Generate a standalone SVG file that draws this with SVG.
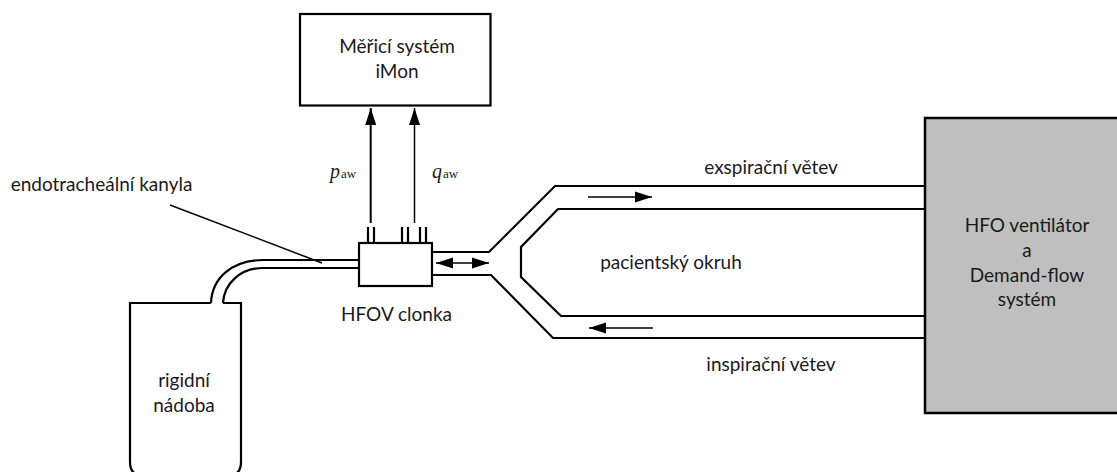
<svg xmlns="http://www.w3.org/2000/svg" width="1117" height="472" viewBox="0 0 1117 472">
<style>
.l{fill:none;stroke:#000;stroke-width:2.2}
.t{font-family:"Lato","Open Sans",sans-serif;font-size:19px;fill:#1a1a1a;text-anchor:middle}
.m{font-family:"Liberation Serif",serif;fill:#1a1a1a}
</style>
<defs>
<marker id="a" markerUnits="userSpaceOnUse" markerWidth="17" markerHeight="12" refX="17" refY="6" orient="auto-start-reverse"><path d="M0 .5L17 6L0 11.5Z" fill="#000"/></marker>
</defs>
<rect width="1117" height="472" fill="#fff"/>
<g id="mereni"><rect class="l" x="300" y="14" width="190.500" height="91.500"/><text class="t" x="397" y="53">Měřicí systém</text><text class="t" x="397" y="78">iMon</text></g>
<g id="ventilator"><rect x="925" y="118" width="194" height="295" fill="#bfbfbf" stroke="#000" stroke-width="2.500"/><text class="t" x="1027" y="232">HFO ventilátor</text><text class="t" x="1027" y="257">a</text><text class="t" x="1027" y="282">Demand-flow</text><text class="t" x="1027" y="306">systém</text></g>
<g id="nadoba"><path class="l" d="M211 303H130V462Q130 476 144 476H227Q241 476 241 462V303H223"/><text class="t" x="184" y="387">rigidní</text><text class="t" x="184" y="412">nádoba</text></g>
<g id="clonka"><rect class="l" x="359" y="243" width="73" height="43"/><path class="l" d="M368 227V243M374 227V243M402 227V243M408 227V243M420 227V243M426 227V243"/><text class="t" x="396.500" y="321">HFOV clonka</text></g>
<g id="connectors">
<path class="l" d="M211 303C212 278 232 260 263 260H359M223 303C224 284 240 268 263 268H359"/>
<path d="M170 205L322 263" fill="none" stroke="#000" stroke-width="1.500"/>
<path d="M370.700 223V108" fill="none" stroke="#000" stroke-width="2" marker-end="url(#a)"/>
<path d="M414.500 223V108" fill="none" stroke="#000" stroke-width="1.500" marker-end="url(#a)"/>
<path class="l" d="M432 252H489L555 186H925M925 209H558L521 247V277L561 316H925M925 338H553L491 275H432"/>
<path d="M588 197H652" fill="none" stroke="#000" stroke-width="1.500" marker-end="url(#a)"/>
<path d="M653 328H589" fill="none" stroke="#000" stroke-width="1.500" marker-end="url(#a)"/>
<path d="M436 263H489" fill="none" stroke="#000" stroke-width="1.500" marker-start="url(#a)" marker-end="url(#a)"/>
</g>
<g id="popisky">
<text class="t" x="101.500" y="191">endotracheální kanyla</text>
<text class="t" x="771" y="174">exspirační větev</text>
<text class="t" x="771" y="371">inspirační větev</text>
<text class="t" x="671" y="269">pacientský okruh</text>
<text class="m" x="330" y="178" font-size="20" font-style="italic">p</text><text class="m" x="341" y="178" font-size="13">aw</text>
<text class="m" x="432" y="178" font-size="20" font-style="italic">q</text><text class="m" x="443" y="178" font-size="13">aw</text>
</g>
</svg>
